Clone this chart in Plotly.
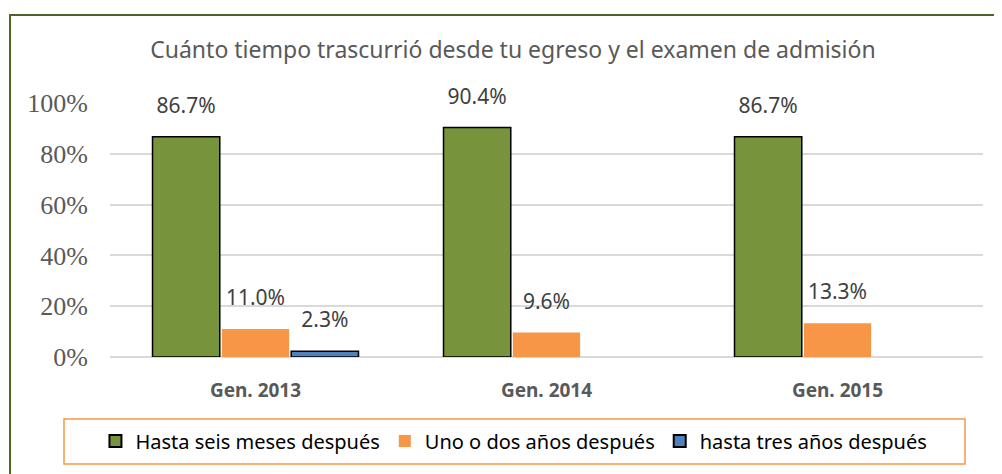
import plotly.graph_objects as go

categorias = ["Gen. 2013", "Gen. 2014", "Gen. 2015"]
seis_meses = [0.867, 0.904, 0.867]
uno_dos = [0.110, 0.096, 0.133]
tres_anos = [0.023, None, None]
y_ticks = [0, 0.2, 0.4, 0.6, 0.8, 1.0]
y_tick_text = ["0%", "20%", "40%", "60%", "80%", "100%"]

series = [
    ("Hasta seis meses después", seis_meses, "#77933c", "#000000", 1.5),
    ("Uno o dos años después", uno_dos, "#f79646", "#f79646", 0),
    ("hasta tres años después", tres_anos, "#4f81bd", "#000000", 1.5),
]

fig = go.Figure()
for i, (nombre, valores, color, borde, ancho) in enumerate(series):
    fig.add_trace(
        go.Bar(
            x=categorias,
            y=valores,
            name=nombre,
            marker=dict(color=color, line=dict(color=borde, width=ancho)),
            offsetgroup=str(i),
        )
    )

# etiquetas de datos, alineadas con las barras
for i, (nombre, valores, color, borde, ancho) in enumerate(series):
    etiquetas = ["" if v is None else f"{v * 100:.1f}%" for v in valores]
    fig.add_trace(
        go.Scatter(
            x=categorias,
            y=valores,
            mode="markers+text",
            marker=dict(size=28, opacity=0),
            text=etiquetas,
            textposition="top center",
            textfont=dict(family="Noto Sans", size=21, color="#404040"),
            offsetgroup=str(i),
            showlegend=False,
            hoverinfo="skip",
            cliponaxis=False,
        )
    )

# la página deja 8 px de margen: la figura ocupa 994x466 dentro de la ventana
fig.update_layout(
    width=994,
    height=466,
    paper_bgcolor="white",
    plot_bgcolor="white",
    margin=dict(l=102, r=19, t=95, b=117),
    barmode="group",
    scattermode="group",
    bargap=0.285,
    bargroupgap=0.03,
    title=dict(
        text="Cuánto tiempo trascurrió desde tu egreso y el examen de admisión",
        x=0.508, xref="container", xanchor="center",
        y=0.91, yref="container", yanchor="middle",
        font=dict(family="Noto Sans", size=23, color="#595959"),
    ),
    yaxis=dict(
        range=[0, 1.0],
        tickvals=y_ticks,
        ticktext=y_tick_text,
        showgrid=True,
        gridcolor="#d9d9d9",
        gridwidth=1.5,
        zeroline=True,
        zerolinecolor="#d9d9d9",
        zerolinewidth=2,
        showline=False,
        ticklabelstandoff=21,
        tickfont=dict(family="Liberation Serif", size=26, color="#595959"),
    ),
    xaxis=dict(
        showline=False,
        ticklabelstandoff=20,
        tickfont=dict(family="Noto Sans", size=19, color="#595959", weight="bold"),
    ),
    showlegend=True,
    legend=dict(
        orientation="h",
        x=0.509, xref="container", xanchor="center",
        y=0.071, yref="container", yanchor="middle",
        font=dict(family="Noto Sans", size=20, color="#000000"),
        bgcolor="rgba(0,0,0,0)",
        borderwidth=0,
        itemsizing="constant",
    ),
    shapes=[
        # borde del gráfico
        dict(type="rect", xref="paper", yref="paper",
             x0=-0.1145, x1=1.3, y0=-1.2, y1=1.346,
             line=dict(color="#4f6228", width=2), fillcolor="rgba(0,0,0,0)", layer="below"),
        # caja de la leyenda
        dict(type="rect", xref="paper", yref="paper",
             x0=(64 - 110) / 873, x1=(965 - 110) / 873,
             y0=(357 - 464) / 254, y1=(357 - 419) / 254,
             line=dict(color="#f79646", width=1.5), fillcolor="rgba(0,0,0,0)"),
    ],
)

fig.write_html("out.html")
